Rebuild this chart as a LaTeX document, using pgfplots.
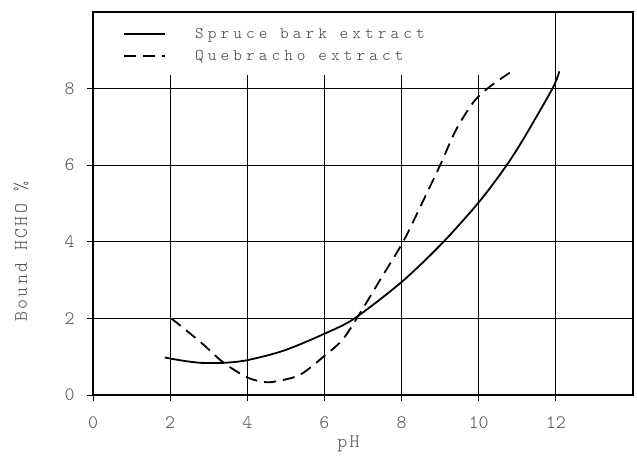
\documentclass[border=0pt]{standalone}
\usepackage{fontspec}
\newfontfamily\tfont{lmmonolt10-regular.otf}
\newfontfamily\tfontls{lmmonolt10-regular.otf}[LetterSpace=25]
\newfontfamily\tfontlab{lmmonolt10-regular.otf}[LetterSpace=12]
\usepackage{pgfplots}
\pgfplotsset{compat=1.18}
\begin{document}
\begin{tikzpicture}
\begin{axis}[
  name=ax,
  width=540bp, height=383bp, scale only axis,
  xmin=0, xmax=14, ymin=0, ymax=10,
  xtick={0,2,4,6,8,10,12}, ytick={0,2,4,6,8},
  xtick pos=left, ytick pos=left,
  tick align=outside,
  major tick length=6bp,
  tick style={black, line width=0.9bp},
  axis line style={line width=2.8bp},
  /pgf/number format/assume math mode=true,
  ticklabel style={font=\tfont\fontsize{19}{19}\selectfont, text=black!70},
  xticklabel style={yshift=-12bp},
  yticklabel style={xshift=-9bp},
  xlabel={pH}, ylabel={Bound HCHO \%},
  label style={font=\tfontlab\fontsize{19}{19}\selectfont, text=black!70},
  xlabel style={at={(rel axis cs:0.473,0)}, anchor=center, yshift=-49bp},
  ylabel style={at={(rel axis cs:-0.1333,0.374)}, anchor=center},
  legend style={at={(rel axis cs:0,1)}, anchor=north west, xshift=27bp, yshift=-12bp,
    draw=none, fill=none, font=\tfontls\fontsize{16.5}{16.5}\selectfont, text=black!75,
    row sep=6bp, legend cell align=left},
  legend image code/.code={\draw[#1, line width=1.8bp] (0bp,0bp) -- (41bp,0bp); \path[draw=none] (0bp,0bp) -- (69bp,0bp);},
]
% grid lines
\foreach \xx in {2,4,6,8,10} {
  \edef\temp{\noexpand\draw[line width=1bp] (axis cs:\xx,0) -- (axis cs:\xx,8.35);}
  \temp
}
\draw[line width=1bp] (axis cs:12,0) -- (axis cs:12,10);
\foreach \yy in {2,4,6,8} {
  \edef\temp{\noexpand\draw[line width=1bp] (axis cs:0,\yy) -- (axis cs:14,\yy);}
  \temp
}
\addplot[black, line width=1.8bp, smooth, tension=0.5] coordinates {
 (1.86,0.98) (2.3,0.9) (2.79,0.84) (3.39,0.84) (4.0,0.91) (4.95,1.16) (6.0,1.6)
 (6.78,2.0) (8.0,2.95) (9.04,3.95) (10.0,5.03) (10.69,5.95)
 (11.18,6.72) (11.91,8.0) (12.09,8.45)
};
\addlegendentry{Spruce bark extract}
\addplot[black, line width=1.8bp, smooth, tension=0.5, dash pattern=on 12bp off 7bp] coordinates {
 (2.03,2.0) (2.79,1.38) (3.39,0.84) (4.0,0.46) (4.43,0.34) (4.77,0.36) (5.37,0.53)
 (6.0,1.02) (6.49,1.47) (6.99,2.25) (7.5,3.1) (8.04,4.0) (8.55,5.05) (9.0,6.0)
 (9.4,6.9) (9.85,7.63) (10.2,7.98) (10.55,8.24) (10.9,8.48)
};
\addlegendentry{Quebracho extract}
\end{axis}
\pgfresetboundingbox
\path ([shift={(-93bp,-70bp)}]ax.south west) rectangle ([shift={(4bp,12bp)}]ax.north east);
\end{tikzpicture}
\end{document}
